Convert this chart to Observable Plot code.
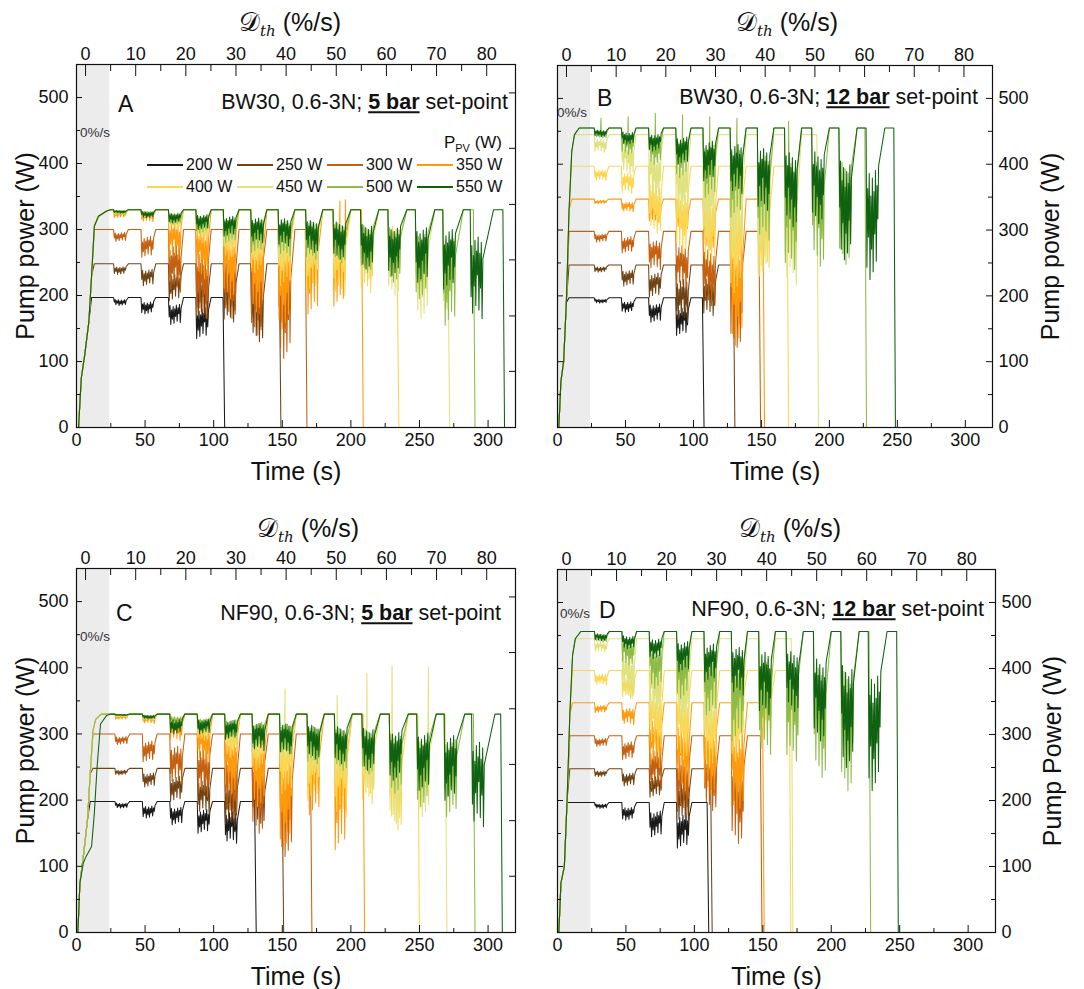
<!DOCTYPE html>
<html><head><meta charset="utf-8">
<script src="https://cdn.jsdelivr.net/npm/d3@7"></script>
<script src="https://cdn.jsdelivr.net/npm/@observablehq/plot@0.6"></script>
<style>
body{margin:0;background:#fff;font-family:"Liberation Sans",Arial,sans-serif;color:#111}
#root{position:relative;width:1084px;height:989px;overflow:hidden;background:#fff}
.panel{position:absolute}
.ov{position:absolute;white-space:nowrap;line-height:1}
</style></head><body><div id="root"></div><script>
// ---------------- data ----------------
const seriesNames = ["200 W","250 W","300 W","350 W","400 W","450 W","500 W","550 W"];
const seriesColors = ["#1a1a1a","#6f4314","#c4600f","#ff9a0d","#fdd64e","#dfe27f","#8dbb46","#0f620f"];

const timeTicks = [0,50,100,150,200,250,300];
const timeMinorTicks = [25,75,125,175,225,275];
const powerTicks = [0,100,200,300,400,500];
const powerMinorTicks = [50,150,250,350,450];
const rateTicks = [0,10,20,30,40,50,60,70,80];
const rateMinorTicks = [5,15,25,35,45,55,65,75];
const rateOriginTime = 6.6;    // s at which D_th = 0 %/s
const secondsPerRate = 3.655;  // s per 1 %/s on the top axis
const rightMirrorTicks = [85,169,254,338,423,507];
const shadeSpan = [0, 24.3];

// shape of the oscillation teeth within one dip (fraction of dip depth)
const toothLow = [0.6, 0.92, 0.72, 1.0, 0.8, 0.95, 0.7, 0.88];
const toothHigh = [0.25, 0.4, 0.3, 0.45, 0.33, 0.42, 0.28, 0.38];
const recovery = [0.8,0.8,1,1.2,1.5,1.8,2.2,2.6,3,3.4,3.8,4.2,5,7];

// Panel A: BW30, 5 bar
const eventStartA = [27,47,67,87,107,127,147,167,187,207,227,247,267,287];
const plateauA = [197,248,300,330,330,330,330,330];
const endA = [108,149,168,209,235,272,290.5,312];
const rampTA = [1.5,3.5,6,9,11,13,16,22];
const rampPA = [0,75,110,160,230,305,320,328];
const lowsA = [
  [185,172,156,135],
  [232,215,192,165,160,130],
  [282,258,205,165,165,140,105],
  [318,312,255,225,195,175,150,172,184],
  [322,318,300,280,255,235,215,205,200,205,230],
  [324,320,305,290,270,255,245,240,245,225,200,165,180],
  [324,320,308,295,280,265,260,255,250,235,220,195,155],
  [325,318,310,300,290,280,275,265,255,240,230,220,210,165]
];
const spikesA = [[3,192,343],[3,196,345]];

// Panel B: BW30, 12 bar
const eventStartB = [27,47,67,87,107,127,147,167,187,207,227];
const plateauB = [197,247,298,347,397,445,455,455];
const endB = [107.8,130.5,149.4,152.3,170,192,227.3,248.6];
const rampTB = [1,2.5,4.5,6.5,8.5,10.5,12.5,16];
const rampPB = [0,70,100,190,330,420,445,455];
const lowsB = [
  [189,175,160,140],
  [236,215,198,160,170],
  [282,265,240,210,185,122],
  [340,328,312,300,270,125],
  [375,356,295,265,245,205,230],
  [418,385,345,320,290,260,235,217],
  [440,415,400,380,350,320,285,240,245,248],
  [442,430,420,400,375,355,330,305,310,255,225]
];
const spikesB = [[6,32,470],[6,52,472],[6,72,477],[6,92,475],[6,112,472],[6,132,470],[6,170,465]];

// Panel C: NF90, 5 bar
const eventStartC = [28,48,68,88,108,128,148,168,188,208,228,248,268,288];
const plateauC = [198,248,300,330,330,330,330,330];
const endC = [131,151,171.6,210,250,270,290.5,310.4];
const rampTC = [1,2.5,5,8,10,12,14,18];
const rampPC = [0,75,115,170,240,305,322,330];
const rampTC550 = [1,2.5,5,7,11,13,15,17.5,22];
const rampPC550 = [0,75,105,115,130,180,250,315,328];
const lowsC = [
  [188,173,163,150,135],
  [238,220,198,180,160,165],
  [284,258,225,205,175,150,115],
  [322,316,290,255,210,190,125,178,125],
  [325,320,310,290,265,245,210,200,175,195,155],
  [326,322,312,300,285,265,255,235,225,210,165,175],
  [327,323,315,305,295,280,270,255,245,240,210,190,175],
  [328,323,300,300,292,275,270,262,255,245,230,215,200,160]
];
const spikesC = [[5,152,368],[5,190,358],[5,211.7,392],[5,230,403],[5,256.6,401]];

// Panel D: NF90, 12 bar
const eventStartD = [27,47,67,87,107,127,147,167,187,207,227];
const plateauD = [197,248,298,348,397,445,456,456];
const endD = [110.5,113,149.4,151,170.5,172,228.8,249];
const rampTD = [1,2.5,5,7,9,11,13,17];
const rampPD = [0,75,100,200,330,420,445,456];
const lowsD = [
  [188,170,145,128],
  [236,222,205,168],
  [282,262,215,180,185,135],
  [333,315,250,215,210,180],
  [375,355,275,262,250,260,290],
  [425,355,320,305,295,290,320],
  [440,405,370,355,330,290,270,260,235,215],
  [442,430,415,395,380,360,330,335,290,250,215]
];
const spikesD = [];

// ---------------- construction ----------------
const toothStart = 0.6, toothStep = 1.15, eventSpan = 10, dropTime = 1.2;

function buildSeries(i, plateau, lows, end, eventStart, rampT, rampP, spikes) {
  const pts = [];
  let reached = false;
  for (let r = 0; r < rampT.length; r++) {
    if (rampP[r] < plateau) pts.push([rampT[r], rampP[r]]);
    else { pts.push([rampT[r], plateau]); reached = true; break; }
  }
  if (!reached) pts.push([rampT[rampT.length - 1] + 3, plateau]);
  const n = toothLow.length;
  lows.forEach((low, k) => {
    if (low == null) return;
    const s = eventStart[k], depth = plateau - low;
    pts.push([s, plateau]);
    for (let j = 0; j < n; j++) {
      const q = (j + k + i) % n;
      const tj = s + toothStart + j * toothStep;
      pts.push([tj, plateau - depth * toothLow[q]]);
      pts.push([tj + toothStep / 2, plateau - depth * toothHigh[q]]);
    }
    pts.push([s + eventSpan + recovery[k], plateau]);
  });
  spikes.filter(d => d[0] === i).forEach(d => pts.push([d[1], d[2]]));
  pts.sort((a, b) => a[0] - b[0]);
  const dropStart = end - dropTime;
  const kept = pts.filter(d => d[0] < dropStart);
  kept.push([dropStart, kept.length ? kept[kept.length - 1][1] : plateau]);
  kept.push([end, 0]);
  return kept;
}

function rowsFor(p) {
  const rows = [];
  seriesNames.forEach((name, i) => {
    const rt = (p.rampOverride && p.rampOverride[i]) ? p.rampOverride[i][0] : p.rampT;
    const rp = (p.rampOverride && p.rampOverride[i]) ? p.rampOverride[i][1] : p.rampP;
    buildSeries(i, p.plateau[i], p.lows[i], p.end[i], p.eventStart, rt, rp, p.spikes)
      .forEach(([t, v]) => rows.push({s: name, t, p: v}));
  });
  return rows;
}

const root = document.getElementById("root");
function overlay(html, x, y, anchor, style) {
  const d = document.createElement("div");
  d.className = "ov";
  d.innerHTML = html;
  d.style.left = x + "px"; d.style.top = y + "px";
  const tx = anchor === "right" ? "-100%" : anchor === "center" ? "-50%" : "0";
  d.style.transform = `translate(${tx},-50%)`;
  Object.assign(d.style, style || {});
  root.appendChild(d);
}

const toTime = d => rateOriginTime + d * secondsPerRate;

function drawPanel(p) {
  const plotW = p.width - p.ml - p.mr, plotH = p.height - p.mt - p.mb;
  const rows = rowsFor(p);
  const side = p.yAnchor;
  const marks = [
    Plot.rect([shadeSpan], {x1: d => d[0], x2: d => d[1], y1: 0, y2: 550, fill: "#ececec"}),
    Plot.line(rows, {x: "t", y: "p", z: "s", stroke: "s", strokeWidth: 1.05}),
    Plot.ruleX(timeTicks, {insetTop: plotH - 7, stroke: "#111"}),
    Plot.ruleX(timeMinorTicks, {insetTop: plotH - 4, stroke: "#111"}),
    Plot.ruleX(rateTicks.map(toTime), {insetBottom: plotH - 12, stroke: "#111"}),
    Plot.ruleX(rateMinorTicks.map(toTime), {insetBottom: plotH - 7, stroke: "#111"}),
    Plot.ruleY(powerTicks, {insetRight: plotW - 6, stroke: "#111"}),
    Plot.ruleY(powerMinorTicks, {insetRight: plotW - 4, stroke: "#111"}),
    Plot.frame({stroke: "#111", strokeWidth: 1.2}),
    Plot.axisX({anchor: "bottom", ticks: timeTicks, tickSize: 0, tickPadding: 6, label: null, fontSize: 18}),
    Plot.axisX({anchor: "top", ticks: rateTicks.map(toTime), tickFormat: (d, i) => String(rateTicks[i]), tickSize: 0, tickPadding: 5, label: null, fontSize: 18}),
    Plot.axisY({anchor: side, ticks: powerTicks, tickSize: 0, tickPadding: side === "left" ? 8 : 6, label: null, fontSize: 18}),
    Plot.text(["Time (s)"], {frameAnchor: "bottom", dy: 52, fontSize: 25, fill: "#111", textAnchor: "middle"}),
    Plot.text([p.yTitle], {frameAnchor: side, dx: p.yTitleDx, rotate: -90, fontSize: 25, fill: "#111", textAnchor: "middle"})
  ];
  if (side === "left") {
    marks.push(Plot.ruleY(rightMirrorTicks, {insetLeft: plotW - 6, stroke: "#111"}));
  } else {
    marks.push(Plot.ruleY(powerTicks, {insetLeft: plotW - 6, stroke: "#111"}));
    marks.push(Plot.ruleY(powerMinorTicks, {insetLeft: plotW - 4, stroke: "#111"}));
  }
  const chart = Plot.plot({
    width: p.width, height: p.height,
    marginTop: p.mt, marginRight: p.mr, marginBottom: p.mb, marginLeft: p.ml,
    x: {domain: [0, 320]},
    y: {domain: [0, 550]},
    color: {domain: seriesNames, range: seriesColors},
    style: {fontFamily: "Liberation Sans, Arial, sans-serif", fontSize: "18px", color: "#111", background: "transparent", overflow: "visible"},
    marks
  });
  const wrap = document.createElement("div");
  wrap.className = "panel";
  wrap.style.left = p.x + "px"; wrap.style.top = p.y + "px";
  wrap.appendChild(chart);
  root.appendChild(wrap);
}

const panels = [
  {x: 0, y: 0, width: 540, height: 490, mt: 64, mr: 25, mb: 63, ml: 76, yAnchor: "left", yTitle: "Pump power (W)", yTitleDx: -51,
   eventStart: eventStartA, plateau: plateauA, end: endA, rampT: rampTA, rampP: rampPA, lows: lowsA, spikes: spikesA},
  {x: 540, y: 0, width: 544, height: 490, mt: 65, mr: 92, mb: 63, ml: 17, yAnchor: "right", yTitle: "Pump power (W)", yTitleDx: 58,
   eventStart: eventStartB, plateau: plateauB, end: endB, rampT: rampTB, rampP: rampPB, lows: lowsB, spikes: spikesB},
  {x: 0, y: 490, width: 540, height: 499, mt: 78, mr: 25, mb: 57, ml: 76, yAnchor: "left", yTitle: "Pump power (W)", yTitleDx: -51,
   eventStart: eventStartC, plateau: plateauC, end: endC, rampT: rampTC, rampP: rampPC, lows: lowsC, spikes: spikesC,
   rampOverride: {7: [rampTC550, rampPC550]}},
  {x: 540, y: 490, width: 544, height: 499, mt: 79, mr: 89, mb: 57, ml: 17, yAnchor: "right", yTitle: "Pump Power (W)", yTitleDx: 57,
   eventStart: eventStartD, plateau: plateauD, end: endD, rampT: rampTD, rampP: rampPD, lows: lowsD, spikes: spikesD}
];
panels.forEach(drawPanel);

// ---------------- text overlays ----------------
const rateTitle = '<span style="font-family:\'DejaVu Serif\',serif;font-size:26px">𝒟</span><span style="font-family:\'DejaVu Serif\',serif;font-style:italic;font-size:15px;position:relative;top:5px">th</span> (%/s)';
[[290, 22], [787, 22], [308, 528], [790, 528]].forEach(([x, y]) => overlay(rateTitle, x, y, "center", {fontSize: "25px"}));

const letters = [["A", 118, 104], ["B", 597, 98], ["C", 116, 613], ["D", 599, 610]];
letters.forEach(([l, x, y]) => overlay(l, x, y, "left", {fontSize: "23px"}));

const conds = [
  ["BW30, 0.6-3N; <b><u>5 bar</u></b> set-point", 508, 103],
  ["BW30, 0.6-3N; <b><u>12 bar</u></b> set-point", 978, 98],
  ["NF90, 0.6-3N; <b><u>5 bar</u></b> set-point", 501, 614],
  ["NF90, 0.6-3N; <b><u>12 bar</u></b> set-point", 984, 610]
];
conds.forEach(([t, x, y]) => overlay(t, x, y, "right", {fontSize: "21.5px"}));

[[80, 133], [557, 113], [80, 637], [560, 614]].forEach(([x, y]) => overlay("0%/s", x, y, "left", {fontSize: "13.5px", color: "#333"}));

// legend (panel A)
overlay('P<span style="font-size:11px;position:relative;top:4px">PV</span> (W)', 502, 142, "right", {fontSize: "17px"});
seriesNames.forEach((name, i) => {
  const row = Math.floor(i / 4), col = i % 4;
  const x0 = 147 + col * 90, y0 = 165 + row * 22;
  const ln = document.createElement("div");
  ln.style.cssText = `position:absolute;left:${x0}px;top:${y0 - 1}px;width:36px;height:2.2px;background:${seriesColors[i]}`;
  root.appendChild(ln);
  overlay(name, x0 + 39, y0, "left", {fontSize: "16px"});
});
</script></body></html>
